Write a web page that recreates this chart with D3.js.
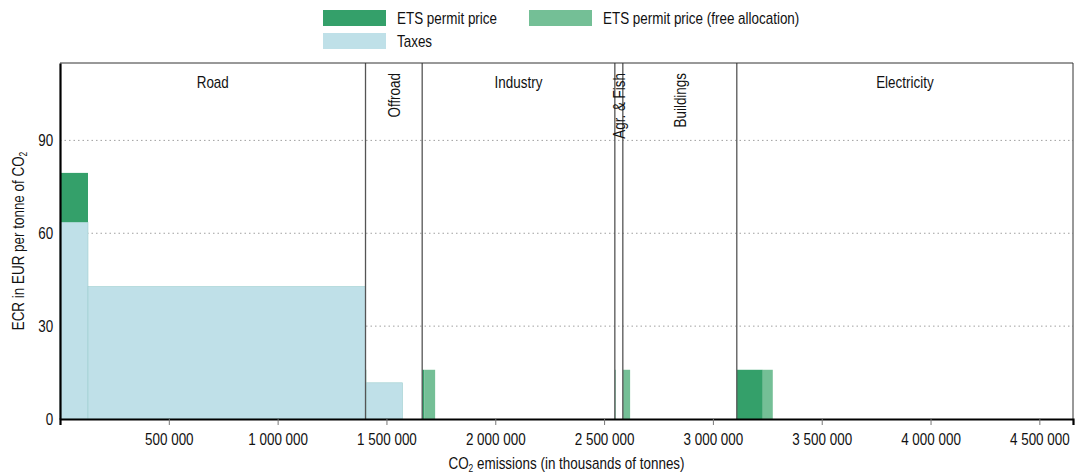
<!DOCTYPE html>
<html>
<head>
<meta charset="utf-8">
<script src="https://cdn.jsdelivr.net/npm/d3@7"></script>
<style>
  html, body { margin: 0; padding: 0; background: #fff; }
  svg { display: block; font-family: "Liberation Sans", Arial, sans-serif; }
</style>
</head>
<body>
<svg id="chart" width="1076" height="474"></svg>
<script>
// Sectors and their total CO2 emissions (thousand tonnes) – define the x extent of each column
const sectors = ["Road", "Offroad", "Industry", "Agr. & Fish", "Buildings", "Electricity"];
const sectorEmissions = [1403800, 260400, 885200, 36700, 523700, 1544800];

// Rate blocks laid out left to right inside each sector
const blockSector    = ["Road", "Road", "Offroad", "Offroad", "Industry", "Industry", "Agr. & Fish", "Buildings", "Electricity", "Electricity"];
const blockEmissions = [128600, 1275200, 3000, 167200, 9000, 50500, 3000, 33500, 119400, 45900];
const blockTaxes     = [63.6, 42.8, 0, 11.7, 0, 0, 0, 0, 0, 0];
const blockEts       = [15.9, 0, 15.9, 0, 15.9, 0, 15.9, 0, 15.9, 0];
const blockEtsFree   = [0, 0, 0, 0, 0, 15.9, 0, 15.9, 0, 15.9];

const yTicks = [0, 30, 60, 90];
const xTicks = [500000, 1000000, 1500000, 2000000, 2500000, 3000000, 3500000, 4000000, 4500000];

const seriesNames  = ["ETS permit price", "ETS permit price (free allocation)", "Taxes"];
const seriesColors = { "Taxes": "#bfe0e8", "ETS permit price": "#34a06a", "ETS permit price (free allocation)": "#74bf96" };

// Condensed look: horizontal squeeze applied to every text
const SX = 0.84;
const FS = 16;

const svg = d3.select("#chart");
const margin = { left: 60, right: 3, top: 63, bottom: 55 };
const W = 1076, H = 474;
const innerW = W - margin.left - margin.right;
const innerH = H - margin.top - margin.bottom;

const total = d3.sum(sectorEmissions);
const x = d3.scaleLinear().domain([0, total]).range([margin.left, margin.left + innerW]);
const y = d3.scaleLinear().domain([0, 115]).range([margin.top + innerH, margin.top]);

const fmt = v => d3.format(",")(v).replace(/,/g, " ");

// Text helper: places text at (px,py), optional rotation, with horizontal squeeze
function label(parent, px, py, str, anchor, rot) {
  return parent.append("text")
    .attr("transform", `translate(${px},${py})${rot ? ` rotate(${rot})` : ""} scale(${SX},1)`)
    .attr("text-anchor", anchor || "start")
    .attr("font-size", FS).attr("fill", "#111")
    .text(str);
}

// Sector extents
const sectorStart = {};
let acc = 0;
sectors.forEach((s, i) => { sectorStart[s] = acc; acc += sectorEmissions[i]; });
const sectorInfo = sectors.map((s, i) => ({ name: s, x0: sectorStart[s], x1: sectorStart[s] + sectorEmissions[i] }));

// Blocks positioned from the start of their sector
const cursor = {};
const blocks = blockSector.map((s, i) => {
  const start = (cursor[s] !== undefined ? cursor[s] : sectorStart[s]);
  cursor[s] = start + blockEmissions[i];
  return { sector: s, x0: start, x1: start + blockEmissions[i],
           taxes: blockTaxes[i], ets: blockEts[i], free: blockEtsFree[i] };
});

// Gridlines (dotted)
svg.append("g").selectAll("line")
  .data(yTicks.filter(t => t > 0))
  .join("line")
  .attr("x1", margin.left).attr("x2", margin.left + innerW)
  .attr("y1", d => y(d)).attr("y2", d => y(d))
  .attr("stroke", "#a0a0a0").attr("stroke-width", 1)
  .attr("stroke-dasharray", "1.5,3");

// Stacked bars: taxes, ETS permit price, free allocation
const segs = [];
blocks.forEach(b => {
  let base = 0;
  [["Taxes", b.taxes], ["ETS permit price", b.ets], ["ETS permit price (free allocation)", b.free]].forEach(([k, v]) => {
    if (v > 0) { segs.push({ key: k, x0: b.x0, x1: b.x1, y0: base, y1: base + v }); base += v; }
  });
});
svg.append("g").selectAll("rect")
  .data(segs)
  .join("rect")
  .attr("x", d => x(d.x0))
  .attr("width", d => x(d.x1) - x(d.x0))
  .attr("y", d => y(d.y1))
  .attr("height", d => y(d.y0) - y(d.y1))
  .attr("fill", d => seriesColors[d.key])
  .attr("stroke", d => d.key === "Taxes" ? "#9fcfcf" : "none")
  .attr("stroke-width", 0.6);

// Sector separators
svg.append("g").selectAll("line")
  .data(sectorInfo.slice(1))
  .join("line")
  .attr("x1", d => x(d.x0)).attr("x2", d => x(d.x0))
  .attr("y1", margin.top).attr("y2", margin.top + innerH)
  .attr("stroke", "#555").attr("stroke-width", 1.3);

// Sector labels: horizontal where room allows, rotated otherwise
const labelG = svg.append("g");
sectorInfo.forEach(s => {
  const cx = (x(s.x0) + x(s.x1)) / 2;
  const wpx = x(s.x1) - x(s.x0);
  if (wpx > 150) {
    label(labelG, cx, 88, s.name, "middle");
  } else {
    label(labelG, cx + 6, 73, s.name, "end", -90);
  }
});

// Frame
svg.append("line").attr("x1", margin.left).attr("x2", margin.left + innerW)
  .attr("y1", margin.top).attr("y2", margin.top).attr("stroke", "#333").attr("stroke-width", 1);
svg.append("line").attr("x1", margin.left + innerW).attr("x2", margin.left + innerW)
  .attr("y1", margin.top).attr("y2", margin.top + innerH).attr("stroke", "#333").attr("stroke-width", 1);

// X axis
const xAxis = svg.append("g").attr("transform", `translate(0,${margin.top + innerH})`)
  .call(d3.axisBottom(x).tickValues(xTicks).tickFormat(fmt).tickSize(6).tickPadding(9));
xAxis.select(".domain").attr("stroke", "#000").attr("stroke-width", 2.2);
xAxis.selectAll(".tick line").attr("stroke", "#777");
xAxis.selectAll("text").attr("font-size", FS).attr("font-family", null).attr("fill", "#111")
  .attr("transform", `scale(${SX},1)`);

// Y axis
const yAxis = svg.append("g").attr("transform", `translate(${margin.left},0)`)
  .call(d3.axisLeft(y).tickValues(yTicks).tickSize(0).tickPadding(8));
yAxis.select(".domain").attr("stroke", "#000").attr("stroke-width", 2.2);
yAxis.selectAll("text").attr("font-size", FS).attr("font-family", null).attr("fill", "#111")
  .attr("transform", `scale(${SX},1)`);

// Axis titles
const xt = label(svg, margin.left + innerW / 2, 469, "", "middle");
xt.append("tspan").text("CO");
xt.append("tspan").attr("font-size", 10).attr("dy", 3).text("2");
xt.append("tspan").attr("dy", -3).text(" emissions (in thousands of tonnes)");

const yt = label(svg, 24, margin.top + innerH / 2, "", "middle", -90);
yt.append("tspan").text("ECR in EUR per tonne of CO");
yt.append("tspan").attr("font-size", 10).attr("dy", 3).text("2");

// Legend
const legendItems = [
  { name: seriesNames[0], x: 323, y: 10 },
  { name: seriesNames[1], x: 529, y: 10 },
  { name: seriesNames[2], x: 323, y: 33 }
];
const lg = svg.append("g");
legendItems.forEach(it => {
  lg.append("rect").attr("x", it.x).attr("y", it.y).attr("width", 63).attr("height", 16)
    .attr("fill", seriesColors[it.name]);
  label(lg, it.x + 74, it.y + 13.5, it.name, "start");
});
</script>
</body>
</html>
